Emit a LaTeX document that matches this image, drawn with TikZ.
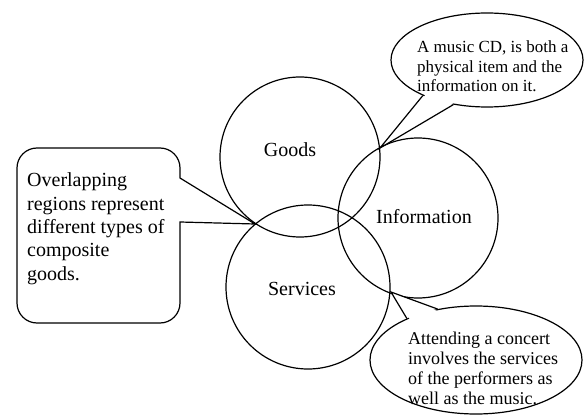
\documentclass[tikz,border=0pt]{standalone}
\usepackage{fontspec}
\setmainfont{Liberation Serif}
\usetikzlibrary{shapes.geometric,calc}
\begin{document}
\begin{tikzpicture}[x=1pt,y=-1pt,
  outline/.style={draw=black,line width=1.2pt,line join=miter},
  setcircle/.style={outline,circle,minimum size=#1,inner sep=0pt},
  bubble/.style={outline,ellipse,fill=white,inner sep=0pt},
  setlabel/.style={anchor=base,inner sep=0pt,font=\fontsize{20}{23}\selectfont},
  notetext/.style={anchor=base west,inner sep=0pt,align=left}]
\useasboundingbox (0,0) rectangle (584,417);

% the three overlapping sets
\node[setcircle=160pt] (goods) at (300,157) {};
\node[setcircle=160pt] (info)  at (418,218) {};
\node[setcircle=164pt] (serv)  at (308,287) {};
\node[setlabel] (goodslbl) at (290,157) {Goods};
\node[setlabel] (infolbl)  at (424,223) {Information};
\node[setlabel] (servlbl)  at (302,295) {Services};

% points where the callouts touch the overlaps
\coordinate (tipGI) at (380,148);
\coordinate (tipGS) at (255,224);
\coordinate (tipIS) at (391,292);

% callout: goods and information
\node[bubble,minimum width=192pt,minimum height=94pt] (cdbubble) at (487,60) {};
\fill[white] (tipGI) -- ($(cdbubble.center)!0.94!(cdbubble.209)$)
  -- ($(cdbubble.center)!0.94!(cdbubble.233)$) -- cycle;
\draw[outline] (cdbubble.209) -- (tipGI) -- (cdbubble.233);
\node[notetext,font=\fontsize{17}{19.5}\selectfont] (cdnote) at (417,92)
  {A music CD, is both a\\physical item and the\\information on it.};

% callout: goods and services
\draw[outline,fill=white] (180,222) -- (180,303)
  arc[start angle=0,end angle=90,radius=20] -- (37,323)
  arc[start angle=90,end angle=180,radius=20] -- (17,168)
  arc[start angle=180,end angle=270,radius=20] -- (160,148)
  arc[start angle=270,end angle=360,radius=20] -- (180,178)
  -- (tipGS) -- cycle;
\node[notetext,font=\fontsize{20}{23.3}\selectfont] (overlapnote) at (27,280)
  {Overlapping\\regions represent\\different types of\\composite\\goods.};

% callout: information and services
\node[bubble,minimum width=212pt,minimum height=108pt] (concertbubble) at (476,360) {};
\fill[white] (tipIS) -- ($(concertbubble.center)!0.94!(concertbubble.149)$)
  -- ($(concertbubble.center)!0.94!(concertbubble.127)$) -- cycle;
\draw[outline] (concertbubble.149) -- (tipIS) -- (concertbubble.127);
\node[notetext,font=\fontsize{18}{20}\selectfont] (concertnote) at (408,404)
  {Attending a concert\\involves the services\\of the performers as\\well as the music.};
\end{tikzpicture}
\end{document}
